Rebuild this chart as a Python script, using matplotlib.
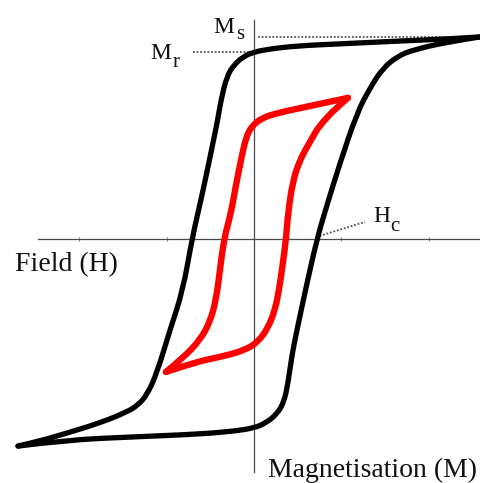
import matplotlib
matplotlib.use("Agg")
import matplotlib.pyplot as plt
from matplotlib.path import Path
from matplotlib.patches import PathPatch

# ---- data (H in tick units, M normalised so Ms ~ 1) ----
black_desc_H = [2.583, 2.206, 1.669, 0.983, 0.491, 0.183, 0.0, -0.126, -0.229, -0.309,
                -0.377, -0.415, -0.462, -0.509, -0.606, -0.709, -0.811, -0.960, -1.109,
                -1.223, -1.326, -1.451, -1.760, -2.137, -2.446, -2.697]
black_desc_M = [0.995, 0.985, 0.975, 0.961, 0.951, 0.936, 0.921, 0.897, 0.857, 0.803,
                0.685, 0.586, 0.488, 0.389, 0.192, 0.0, -0.251, -0.448, -0.660,
                -0.768, -0.818, -0.852, -0.906, -0.956, -0.995, -1.020]

black_asc_H = [-2.697, -2.137, -1.383, -0.617, -0.217, 0.0, 0.137, 0.263, 0.343, 0.389,
               0.434, 0.491, 0.606, 0.720, 0.834, 0.983, 1.177, 1.326, 1.474, 1.646,
               1.817, 2.206, 2.583]
black_asc_M = [-1.020, -0.990, -0.975, -0.961, -0.946, -0.931, -0.906, -0.862, -0.803, -0.709,
               -0.571, -0.448, -0.217, 0.0, 0.167, 0.374, 0.621, 0.744, 0.842, 0.901,
               0.931, 0.970, 0.995]

red_desc_H = [1.074, 0.640, 0.274, 0.091, -0.023, -0.091, -0.149, -0.206, -0.263, -0.343,
              -0.389, -0.434, -0.503, -0.617, -0.811, -1.006]
red_desc_M = [0.695, 0.655, 0.621, 0.596, 0.557, 0.502, 0.389, 0.266, 0.128, 0.0,
              -0.153, -0.300, -0.409, -0.498, -0.586, -0.655]

red_asc_H = [-1.006, -0.674, -0.331, -0.103, 0.046, 0.160, 0.240, 0.286, 0.331, 0.366,
             0.389, 0.446, 0.526, 0.606, 0.789, 1.074]
red_asc_M = [-0.655, -0.606, -0.576, -0.547, -0.507, -0.438, -0.350, -0.251, -0.118, 0.0,
             0.128, 0.291, 0.389, 0.453, 0.591, 0.695]

field_ticks = [-2, -1, 1, 2]
Ms_level = 0.995
Mr_level = 0.921
Hc_value = 0.72

W, Hpx = 480, 483
fig = plt.figure(figsize=(W / 100, Hpx / 100), dpi=100)
ax = fig.add_axes([0, 0, 1, 1])
ax.set_xlim(-2.903, 2.583)
ax.set_ylim(-1.202, 1.177)

axis_col = "#4a4a4a"
for s in ["top", "right"]:
    ax.spines[s].set_visible(False)
ax.spines["left"].set_position(("data", 0))
ax.spines["bottom"].set_position(("data", 0))
ax.spines["left"].set_bounds(-1.148, 1.079)
ax.spines["bottom"].set_bounds(-2.469, 2.583)
for s in ["left", "bottom"]:
    ax.spines[s].set_color(axis_col)
    ax.spines[s].set_linewidth(0.9)
ax.set_xticks(field_ticks)
ax.set_xticklabels([])
ax.set_yticks([])
ax.tick_params(axis="x", direction="inout", length=3, width=0.8, color="#888888")


def smooth_branch(hs, ms, color, lw):
    """Quadratic B-spline style path through the read points (drawn by matplotlib Path)."""
    pts = list(zip(hs, ms))
    verts = [pts[0]]
    codes = [Path.MOVETO]
    for i in range(1, len(pts) - 1):
        if i < len(pts) - 2:
            end = ((pts[i][0] + pts[i + 1][0]) / 2, (pts[i][1] + pts[i + 1][1]) / 2)
        else:
            end = pts[i + 1]
        verts += [pts[i], end]
        codes += [Path.CURVE3, Path.CURVE3]
    patch = PathPatch(Path(verts, codes), facecolor="none", edgecolor=color, lw=lw,
                      capstyle="round", joinstyle="round", zorder=3)
    ax.add_patch(patch)


smooth_branch(black_desc_H, black_desc_M, "black", 3.8)
smooth_branch(black_asc_H, black_asc_M, "black", 3.8)
smooth_branch(red_desc_H, red_desc_M, "#ff0000", 4.6)
smooth_branch(red_asc_H, red_asc_M, "#ff0000", 4.6)

# dotted guide lines
dot = dict(color="#555555", lw=1.3, linestyle=(0, (1, 1)), zorder=2)
ax.plot([0.046, 2.583], [Ms_level, Ms_level], **dot)
ax.plot([-0.697, 0.0], [Mr_level, Mr_level], **dot)
ax.plot([Hc_value + 0.03, 1.269], [0.015, 0.084], **dot)


def ftxt(x, y, s, size):
    fig.text(x / W, 1 - y / Hpx, s, fontsize=size, family="Liberation Serif",
             ha="left", va="baseline", color="#111111")


ftxt(15, 271, "Field (H)", 20)
ftxt(268, 477, "Magnetisation (M)", 20)
ftxt(213, 33, "M", 17)
ftxt(236, 39, "s", 15)
ftxt(150, 59, "M", 17)
ftxt(173, 67, "r", 15)
ftxt(373, 222, "H", 17)
ftxt(390, 231, "c", 15)

fig.savefig("out.png", dpi=100)
